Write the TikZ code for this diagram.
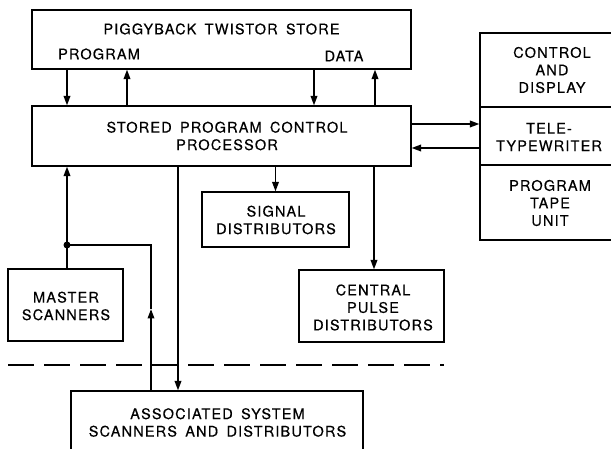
\documentclass[tikz,border=0pt]{standalone}
\usepackage{fontspec}
\setmainfont{TeX Gyre Heros}[LetterSpace=8,WordSpace=1.6,FakeBold=0.35]
\usetikzlibrary{arrows.meta}
\begin{document}
\begin{tikzpicture}[x=1pt,y=-1pt,
  font=\fontsize{14.5}{17.5}\selectfont,
  box/.style={draw,line width=1.1pt,inner sep=0pt,rectangle},
  txt/.style={inner sep=0pt,align=center},
  conn/.style={line width=1.8pt,-{Triangle[length=9.5pt,width=6.5pt]}},
  wire/.style={line width=1.8pt}]
\useasboundingbox (0,0) rectangle (611,449);
% boxes
\node[box,minimum width=379pt,minimum height=59pt] (tw) at (221.5,39.5) {};
\node[box,minimum width=379pt,minimum height=60pt] (spc) at (221.5,136) {};
\node[box,minimum width=134pt,minimum height=74pt] (cd) at (547,70) {};
\node[box,minimum width=134pt,minimum height=58pt] (tt) at (547,136) {};
\node[box,minimum width=134pt,minimum height=75pt] (pt) at (547,202.5) {};
\node[box,minimum width=147pt,minimum height=55pt] (sig) at (275.5,219.5) {};
\node[box,minimum width=145pt,minimum height=72pt] (cpd) at (371.5,306) {};
\node[box,minimum width=115pt,minimum height=72pt] (ms) at (65.5,305) {};
\node[box,minimum width=292pt,minimum height=70pt] (as) at (217,426) {};
% texts
\node[txt] (twt) at (221.5,29) {PIGGYBACK TWISTOR STORE};
\node[txt] (prg) at (99,54) {PROGRAM};
\node[txt] (dat) at (344,56) {DATA};
\node[txt] (spct) at (227,136) {STORED PROGRAM CONTROL\\PROCESSOR};
\node[txt] (cdt) at (552,70) {CONTROL\\AND\\DISPLAY};
\node[txt] (ttt) at (549,137) {TELE-\\TYPEWRITER};
\node[txt] (ptt) at (550,203) {PROGRAM\\TAPE\\UNIT};
\node[txt] (sigt) at (276,220) {SIGNAL\\DISTRIBUTORS};
\node[txt] (cpdt) at (373,307.5) {CENTRAL\\PULSE\\DISTRIBUTORS};
\node[txt] (mst) at (66,306) {MASTER\\SCANNERS};
\node[txt] (ast) at (217.5,422.5) {ASSOCIATED SYSTEM\\SCANNERS AND DISTRIBUTORS};
% connectors
\draw[conn] (tw.south -| 67,0) -- (spc.north -| 67,0);
\draw[conn] (spc.north -| 127,0) -- (tw.south -| 127,0);
\draw[conn] (tw.south -| 314,0) -- (spc.north -| 314,0);
\draw[conn] (spc.north -| 375,0) -- (tw.south -| 375,0);
\draw[conn] (spc.east |- 0,124) -- (tt.west |- 0,124);
\draw[conn] (tt.west |- 0,148) -- (spc.east |- 0,148);
\draw[conn] (spc.south -| sig.north) -- (sig.north);
\draw[conn] (spc.south -| 374,0) -- (cpd.north -| 374,0);
\draw[conn] (ms.north -| 67,0) -- (spc.south -| 67,0);
\coordinate (jn) at (67,245);
\coordinate (mid) at (151,309);
\fill (jn) circle (3.5pt);
\draw[conn] (as.north -| 151,0) -- (mid);
\draw[wire] (mid) -- (151,245) -- (jn);
\draw[conn] (spc.south -| 178,0) -- (as.north -| 178,0);
\coordinate (dl) at (8,365);
\coordinate (dr) at (444,365);
\draw[line width=1.1pt,dash pattern=on 26pt off 10pt] (dl) -- (dr);
\end{tikzpicture}
\end{document}
